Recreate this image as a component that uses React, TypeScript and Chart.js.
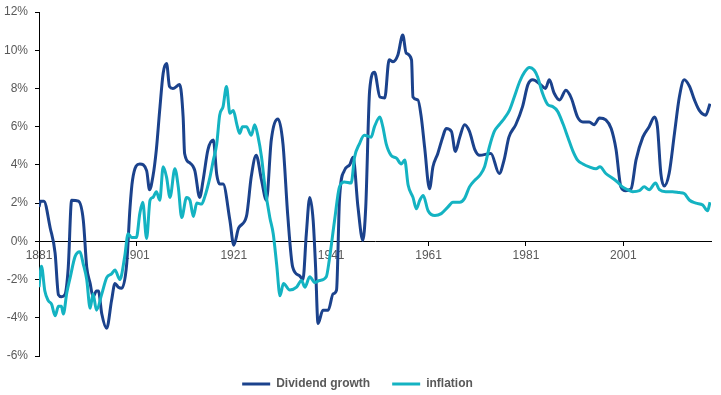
import React, { useEffect, useRef } from "react";
import { Chart, registerables } from "chart.js";

Chart.register(...registerables);

const divYears = [
  1881.0, 1881.3, 1882.0, 1883.3, 1884.3, 1885.0, 1885.6, 1886.3, 1887.0, 1887.7,
  1889.1, 1890.1, 1890.8, 1891.5, 1892.1, 1892.8, 1893.2, 1893.9, 1894.9, 1895.9,
  1896.6, 1897.3, 1898.0, 1899.0, 1899.7, 1900.2, 1901.7, 1903.1, 1903.7, 1904.4,
  1905.1, 1905.8, 1906.5, 1907.2, 1907.8, 1908.5, 1909.9, 1910.6, 1910.9, 1912.0,
  1913.0, 1914.0, 1914.7, 1915.7, 1916.8, 1917.5, 1918.1, 1918.8, 1920.2, 1921.0,
  1922.0, 1923.6, 1924.6, 1925.6, 1926.7, 1927.7, 1928.7, 1930.1, 1931.1, 1932.1,
  1933.1, 1934.5, 1935.2, 1935.9, 1936.6, 1937.3, 1937.8, 1938.3, 1939.3, 1940.4,
  1941.4, 1942.1, 1942.7, 1943.7, 1944.8, 1945.5, 1946.5, 1947.5, 1948.1, 1948.9,
  1949.9, 1951.0, 1952.0, 1952.9, 1953.7, 1954.7, 1955.7, 1956.4, 1957.5, 1957.8,
  1958.8, 1959.5, 1960.2, 1961.2, 1961.9, 1962.9, 1963.9, 1964.6, 1965.7, 1966.5,
  1967.4, 1968.4, 1969.4, 1970.5, 1971.5, 1973.8, 1975.5, 1976.5, 1977.5, 1978.9,
  1980.3, 1981.4, 1982.4, 1983.8, 1985.0, 1985.8, 1986.8, 1987.9, 1989.2, 1990.3,
  1991.6, 1992.7, 1994.0, 1995.0, 1996.1, 1997.4, 1998.5, 1999.5, 2000.5, 2001.5,
  2002.6, 2003.6, 2005.0, 2006.3, 2007.4, 2008.0, 2008.7, 2009.4, 2010.4, 2011.5,
  2012.5, 2013.5, 2014.6, 2015.6, 2016.6, 2017.9, 2018.8,
];
const divValues = [
  1.8, 2.1, 2.1, 0.7, -0.6, -2.8, -2.9, -2.8, -1.4, 2.15,
  2.1, 1.1, -1.35, -2.2, -2.9, -2.6, -2.6, -3.8, -4.55, -3.1,
  -2.2, -2.4, -2.45, -1.2, 1.8, 3.2, 4.05, 3.7, 2.7, 3.4,
  4.8, 6.9, 8.8, 9.3, 8.1, 8.0, 8.2, 6.5, 4.6, 4.1,
  3.7, 2.3, 3.2, 4.8, 5.3, 3.5, 3.0, 3.0, 1.1, -0.2,
  0.7, 1.3, 3.4, 4.5, 3.2, 2.15, 5.3, 6.4, 5.1, 1.3,
  -1.35, -1.8, -2.0, 0.4, 2.3, 1.1, -1.35, -4.3, -3.6, -3.6,
  -2.75, -2.55, 2.15, 3.7, 4.0, 4.4, 1.8, 0.05, 1.8, 7.9,
  8.85, 7.55, 7.5, 9.5, 9.4, 9.75, 10.8, 9.85, 9.5, 7.55,
  7.4, 6.5, 4.9, 2.75, 3.9, 4.6, 5.45, 5.9, 5.75, 4.7,
  5.45, 6.1, 5.75, 4.8, 4.5, 4.6, 3.55, 4.25, 5.45, 6.1,
  7.05, 8.2, 8.45, 8.25, 8.0, 8.45, 7.75, 7.4, 7.9, 7.5,
  6.5, 6.25, 6.25, 6.1, 6.45, 6.35, 5.9, 4.8, 2.85, 2.65,
  2.75, 4.25, 5.45, 6.0, 6.5, 6.0, 3.55, 2.9, 3.55, 5.65,
  7.55, 8.45, 8.1, 7.4, 6.85, 6.6, 7.2,
];

const inflYears = [
  1881.0, 1881.5, 1882.2, 1882.9, 1883.6, 1884.3, 1885.0, 1885.6, 1886.0, 1886.7,
  1887.4, 1888.4, 1889.4, 1890.1, 1890.8, 1891.5, 1892.1, 1892.8, 1893.9, 1894.9,
  1895.9, 1896.6, 1897.6, 1898.6, 1899.3, 1900.0, 1901.0, 1901.7, 1902.3, 1903.1,
  1903.8, 1904.4, 1905.1, 1905.8, 1906.5, 1907.2, 1907.9, 1908.9, 1909.6, 1910.3,
  1911.3, 1912.0, 1912.7, 1913.4, 1914.4, 1915.0, 1916.1, 1916.8, 1917.5, 1918.1,
  1918.8, 1919.5, 1920.2, 1920.9, 1921.6, 1922.2, 1922.8, 1923.6, 1924.6, 1925.3,
  1926.0, 1926.7, 1927.4, 1928.4, 1929.1, 1929.8, 1930.5, 1931.2, 1932.5, 1933.9,
  1934.9, 1935.6, 1936.6, 1937.6, 1938.6, 1940.0, 1940.6, 1941.7, 1942.7, 1943.7,
  1945.1, 1945.8, 1946.8, 1947.8, 1949.2, 1949.9, 1951.0, 1951.6, 1952.3, 1953.3,
  1954.4, 1955.4, 1956.1, 1956.8, 1957.8, 1958.5, 1959.2, 1959.9, 1960.9, 1962.3,
  1963.6, 1965.0, 1966.0, 1967.4, 1968.4, 1969.4, 1970.5, 1971.5, 1972.5, 1973.5,
  1974.5, 1975.5, 1976.6, 1977.6, 1978.6, 1979.7, 1980.7, 1981.7, 1982.7, 1983.4,
  1984.4, 1985.5, 1986.5, 1987.5, 1988.6, 1989.6, 1990.6, 1991.6, 1992.7, 1994.0,
  1995.4, 1996.2, 1997.4, 1998.8, 1999.8, 2000.8, 2001.9, 2002.9, 2004.3, 2005.3,
  2006.3, 2007.6, 2008.4, 2009.7, 2011.1, 2012.5, 2013.5, 2014.6, 2015.9, 2017.3,
  2018.3, 2018.8,
];
const inflValues = [
  -2.4, -1.3, -2.6, -3.1, -3.3, -3.9, -3.4, -3.4, -3.8, -2.7,
  -1.9, -0.8, -0.55, -1.2, -2.0, -3.5, -2.75, -3.6, -2.75, -1.9,
  -1.7, -1.5, -2.0, -0.8, 0.4, 0.2, 0.2, 1.45, 2.05, 0.15,
  2.15, 2.3, 2.6, 2.15, 3.9, 3.35, 2.3, 3.8, 2.85, 1.25,
  2.3, 2.15, 1.3, 2.0, 1.95, 2.3, 3.35, 4.25, 5.1, 6.6,
  7.05, 8.1, 6.7, 6.85, 6.15, 5.65, 6.0, 6.0, 5.55, 6.1,
  5.45, 4.4, 2.85, 1.25, 0.4, -1.2, -2.85, -2.2, -2.55, -2.4,
  -2.05, -2.4, -1.85, -2.15, -2.05, -1.85, -1.0, 1.1, 2.85, 3.1,
  3.05, 4.4, 5.1, 5.55, 5.45, 6.0, 6.5, 6.0, 5.1, 4.5,
  4.35, 4.05, 4.25, 2.95, 2.3, 1.7, 2.15, 2.4, 1.6, 1.35,
  1.45, 1.8, 2.05, 2.05, 2.25, 2.85, 3.2, 3.45, 3.9, 4.95,
  5.75, 6.1, 6.45, 6.85, 7.55, 8.35, 8.85, 9.1, 8.95, 8.6,
  7.75, 7.15, 7.05, 6.8, 6.15, 5.45, 4.75, 4.25, 4.05, 3.9,
  3.8, 3.9, 3.55, 3.3, 3.1, 2.85, 2.7, 2.6, 2.65, 2.85,
  2.7, 3.05, 2.7, 2.6, 2.6, 2.55, 2.5, 2.15, 2.0, 1.9,
  1.6, 2.05,
];

const xTickValues = [1881, 1901, 1921, 1941, 1961, 1981, 2001];
const seriesNames = ["Dividend growth", "inflation"];

const FONT = '"Liberation Sans", Arial, sans-serif';
const TICK_COLOR = "#595959";

export default function App() {
  const ref = useRef<HTMLCanvasElement | null>(null);

  useEffect(() => {
    document.body.style.margin = "0";
    if (!ref.current) return;
    const chart = new Chart(ref.current, {
      type: "line",
      data: {
        datasets: [
          {
            label: seriesNames[0],
            data: divYears.map((x, i) => ({ x, y: divValues[i] })),
            borderColor: "#1B428C",
            backgroundColor: "#1B428C",
            borderWidth: 3,
            pointRadius: 0,
            cubicInterpolationMode: "monotone",
            order: 1,
          },
          {
            label: seriesNames[1],
            data: inflYears.map((x, i) => ({ x, y: inflValues[i] })),
            borderColor: "#14B3C2",
            backgroundColor: "#14B3C2",
            borderWidth: 3,
            pointRadius: 0,
            cubicInterpolationMode: "monotone",
            order: 0,
          },
        ],
      },
      options: {
        animation: false,
        responsive: false,
        events: [],
        layout: { padding: { left: 4, right: 10, top: 12, bottom: -5 } },
        plugins: {
          tooltip: { enabled: false },
          legend: {
            position: "bottom",
            labels: {
              usePointStyle: true,
              pointStyle: "line",
              pointStyleWidth: 28,
              boxHeight: 12,
              padding: 22,
              color: TICK_COLOR,
              font: { family: FONT, size: 12, weight: "bold" },
              sort: (a: any, b: any) => a.datasetIndex - b.datasetIndex,
            },
          },
        },
        scales: {
          x: {
            type: "linear",
            min: 1881,
            max: 2019,
            position: { y: 0 } as any,
            afterBuildTicks: (scale: any) => {
              scale.ticks = xTickValues.map((v) => ({ value: v }));
            },
            ticks: {
              autoSkip: false,
              maxRotation: 0,
              padding: 3,
              color: TICK_COLOR,
              font: { family: FONT, size: 12 },
              callback: (v: any) => String(v),
            },
            grid: {
              drawOnChartArea: false,
              drawTicks: true,
              tickLength: 4,
              color: "#000000",
            },
            border: { display: true, color: "#000000", width: 1 },
          },
          y: {
            type: "linear",
            min: -6,
            max: 12,
            afterFit: (scale: any) => {
              scale.width = 35;
              scale.paddingTop = 0;
              scale.paddingBottom = 0;
            },
            ticks: {
              stepSize: 2,
              padding: 7,
              color: TICK_COLOR,
              font: { family: FONT, size: 12 },
              callback: (v: any) => v + "%",
            },
            grid: {
              drawOnChartArea: false,
              drawTicks: true,
              tickLength: 4,
              color: "#000000",
            },
            border: { display: true, color: "#000000", width: 1 },
          },
        },
      },
    });
    return () => chart.destroy();
  }, []);

  return (
    <div style={{ position: "absolute", left: 0, top: 0, width: 721, height: 395 }}>
      <canvas ref={ref} width={721} height={395} style={{ display: "block" }} />
    </div>
  );
}
